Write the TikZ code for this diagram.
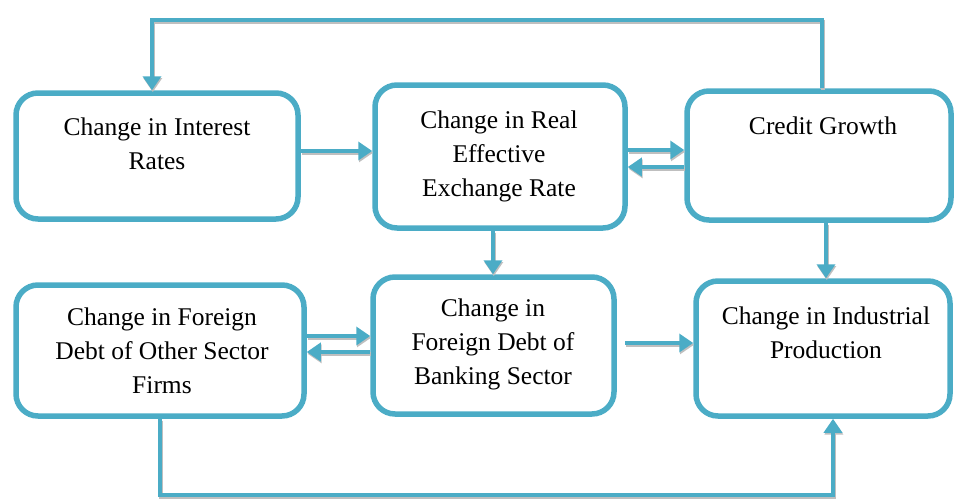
\documentclass[tikz,border=0pt]{standalone}
\usepackage{fontspec}
\setmainfont{Liberation Serif}
\usetikzlibrary{arrows.meta}
\definecolor{myblue}{HTML}{4BACC6}
\begin{document}
\begin{tikzpicture}[x=1pt,y=-1pt,
  box/.style={draw=myblue, line width=5.5pt, rounded corners=22pt, rectangle, inner sep=0pt},
  txt/.style={align=center, font=\fontsize{25.5}{34}\selectfont, inner sep=0pt},
  arr/.style={draw=myblue, line width=4.5pt, -{Triangle[length=14pt,width=18pt]},
    preaction={draw=black!25, line width=4.5pt, -{Triangle[length=14pt,width=18pt]}, transform canvas={shift={(0.8pt,-1.8pt)}}}}]
\useasboundingbox (0,0) rectangle (954,501);
% boxes
\node[box, minimum width=282pt, minimum height=126pt] (b1) at (157,156) {};
\node[box, minimum width=250pt, minimum height=143pt] (b2) at (500,156.5) {};
\node[box, minimum width=264pt, minimum height=129pt] (b3) at (819,155.5) {};
\node[box, minimum width=288pt, minimum height=131pt] (b4) at (160,350.5) {};
\node[box, minimum width=241pt, minimum height=137pt] (b5) at (493.5,345.5) {};
\node[box, minimum width=254pt, minimum height=135pt] (b6) at (823,348.5) {};
% texts
\node[txt] (t1) at (157,144) {Change in Interest\\Rates};
\node[txt] (t2) at (499,156) {Change in Real\\Effective\\Exchange Rate};
\node[txt] (t3) at (823,126) {Credit Growth};
\node[txt] (t4) at (162,351) {Change in Foreign\\Debt of Other Sector\\Firms};
\node[txt] (t5) at (493,344) {Change in\\Foreign Debt of\\Banking Sector};
\node[txt] (t6) at (826,333) {Change in Industrial\\Production};
% connectors
\draw[arr] (b1.east |- 0,151) -- (b2.west |- 0,151);
\draw[arr] (b2.east |- 0,150) -- (b3.west |- 0,150);
\draw[arr] (b3.west |- 0,167) -- (b2.east |- 0,167);
\draw[arr] (b4.east |- 0,336) -- (b5.west |- 0,336);
\draw[arr] (b5.west |- 0,352) -- (b4.east |- 0,352);
\coordinate (s5) at (625,343);
\draw[arr] (s5) -- (b6.west |- s5);
\draw[arr] (b2.south -| 493,0) -- (b5.north -| 493,0);
\draw[arr] (b3.south -| 826,0) -- (b6.north -| 826,0);
\draw[arr] (b3.north -| 822,0) |- (152,20) -- (b1.north -| 152,0);
\draw[arr] (b4.south -| 160,0) |- (833,495) -- (b6.south -| 833,0);
\end{tikzpicture}
\end{document}
